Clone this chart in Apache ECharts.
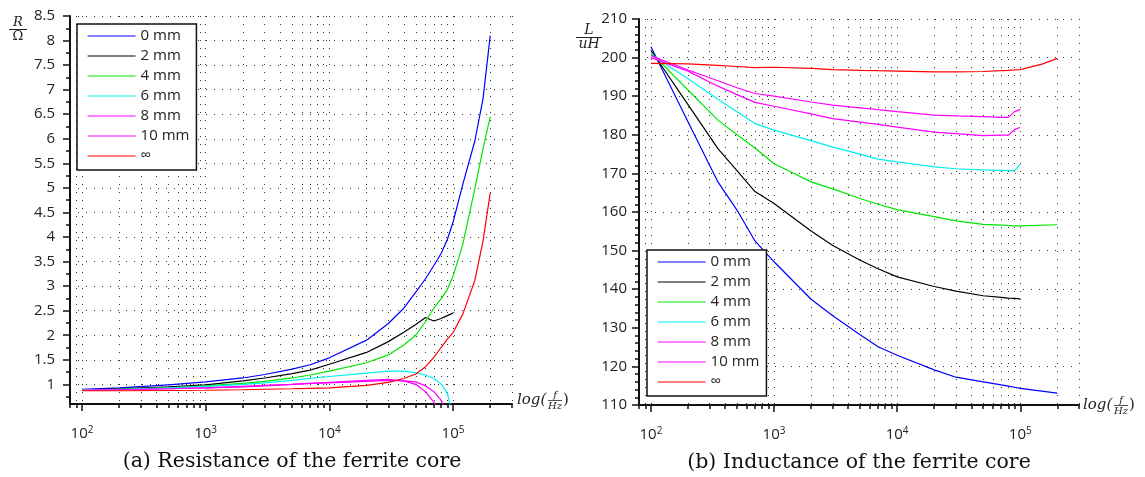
<!DOCTYPE html>
<html><head><meta charset="utf-8">
<script src="https://cdn.jsdelivr.net/npm/echarts@6/dist/echarts.min.js"></script>
<style>html,body{margin:0;padding:0;background:#fff}#c{width:1145px;height:477px}</style>
</head><body><div id="c"></div>
<script>
// ---------- data ----------
const seriesNames = ['0 mm', '2 mm', '4 mm', '6 mm', '8 mm', '10 mm', '\u221e'];
const seriesColors = ['#0000ff', '#000000', '#00e600', '#00f0f0', '#ff00ff', '#ff00ff', '#ff0000'];

// (a) Resistance, frequencies in Hz
const freqR = [100, 200, 500, 1000, 2000, 3000, 5000, 7000, 10000, 20000, 30000, 40000, 50000, 60000, 70000, 80000, 90000, 100000, 120000, 150000, 175000, 200000];
const res0  = [0.90, 0.93, 0.99, 1.05, 1.13, 1.20, 1.31, 1.40, 1.54, 1.90, 2.24, 2.55, 2.88, 3.15, 3.42, 3.66, 3.95, 4.30, 5.07, 5.95, 6.82, 8.10];
const res2  = [0.89, 0.91, 0.95, 0.99, 1.07, 1.13, 1.22, 1.29, 1.41, 1.65, 1.87, 2.06, 2.22, 2.36, 2.29, 2.34, 2.40, 2.45, null, null, null, null];
const res4  = [0.89, 0.90, 0.93, 0.97, 1.02, 1.06, 1.13, 1.19, 1.27, 1.44, 1.60, 1.80, 2.00, 2.28, 2.55, 2.74, 2.93, 3.20, 3.85, 4.98, 5.80, 6.45];
const res6  = [0.89, 0.90, 0.93, 0.96, 1.00, 1.03, 1.08, 1.12, 1.16, 1.23, 1.27, 1.27, 1.24, 1.19, 1.12, 1.01, 0.82, 0.30, null, null, null, null];
const res8  = [0.88, 0.89, 0.91, 0.93, 0.96, 0.98, 1.00, 1.02, 1.03, 1.06, 1.08, 1.07, 1.05, 0.97, 0.85, 0.68, 0.40, null, null, null, null, null];
const res10 = [0.88, 0.89, 0.91, 0.93, 0.95, 0.97, 1.00, 1.02, 1.04, 1.08, 1.10, 1.07, 1.00, 0.85, 0.64, 0.40, null, null, null, null, null, null];
const resInf= [0.87, 0.87, 0.875, 0.88, 0.89, 0.90, 0.91, 0.92, 0.93, 0.98, 1.04, 1.12, 1.21, 1.36, 1.55, 1.75, 1.92, 2.05, 2.43, 3.11, 3.92, 4.90];

// (b) Inductance, frequencies in Hz
const freqL = [100, 200, 350, 500, 700, 1000, 2000, 3000, 5000, 7000, 10000, 20000, 30000, 50000, 70000, 80000, 90000, 100000, 150000, 200000];
const ind0  = [202.8, 183.4, 167.8, 160.5, 152.5, 147.1, 137.4, 133.1, 128.2, 125.1, 122.9, 119.1, 117.2, 116.0, 115.2, 114.9, 114.6, 114.3, null, 113.1];
const ind2  = [201.9, 187.8, 176.4, 170.7, 165.3, 162.2, 155.1, 151.3, 147.5, 145.3, 143.2, 140.7, 139.5, 138.3, 137.9, 137.7, 137.6, 137.5, null, null];
const ind4  = [201.3, 191.6, 183.8, 180.0, 176.6, 172.5, 167.8, 166.0, 163.5, 162.0, 160.6, 158.8, 157.7, 156.8, 156.6, 156.5, 156.4, 156.4, null, 156.7];
const ind6  = [200.8, 194.5, 189.2, 186.0, 182.9, 181.2, 178.5, 176.8, 175.0, 173.7, 173.0, 171.7, 171.2, 170.9, 170.8, 170.7, 170.7, 172.4, null, null];
const ind8  = [200.0, 196.5, 192.6, 190.4, 188.4, 187.4, 185.4, 184.2, 183.3, 182.7, 182.0, 180.7, 180.3, 179.8, 179.9, 179.9, 181.4, 181.9, null, null];
const ind10 = [200.5, 196.8, 194.0, 192.2, 190.7, 190.0, 188.5, 187.7, 187.0, 186.5, 186.0, 185.1, 184.9, 184.7, 184.5, 184.5, 186.0, 186.6, null, null];
const indInf= [198.5, 198.4, 198.0, 197.7, 197.4, 197.5, 197.2, 196.9, 196.7, 196.6, 196.5, 196.3, 196.3, 196.4, 196.6, 196.7, 196.8, 196.9, 198.3, 199.8];

// axes / ticks
const freqMin = 80, freqMax = 300000;
const xMajorExp = [2, 3, 4, 5];
const xGridFreqs = [80, 90, 100, 200, 300, 400, 500, 600, 700, 800, 900, 1000, 2000, 3000, 4000, 5000, 6000, 7000, 8000, 9000,
  10000, 20000, 30000, 40000, 50000, 60000, 70000, 80000, 90000, 100000, 200000, 300000];
const resTicks = [1, 1.5, 2, 2.5, 3, 3.5, 4, 4.5, 5, 5.5, 6, 6.5, 7, 7.5, 8, 8.5];
const resMinorTicks = [0.75, 1.25, 1.75, 2.25, 2.75, 3.25, 3.75, 4.25, 4.75, 5.25, 5.75, 6.25, 6.75, 7.25, 7.75, 8.25];
const indTicks = [110, 120, 130, 140, 150, 160, 170, 180, 190, 200, 210];
const indMinorTicks = [112, 114, 116, 118, 122, 124, 126, 128, 132, 134, 136, 138, 142, 144, 146, 148, 152, 154, 156, 158,
  162, 164, 166, 168, 172, 174, 176, 178, 182, 184, 186, 188, 192, 194, 196, 198, 202, 204, 206, 208];
const captionA = '(a) Resistance of the ferrite core';
const captionB = '(b) Inductance of the ferrite core';

// ---------- option ----------
const SANS = 'Open Sans';
const SERIF = 'DejaVu Serif';
const lg = Math.log10;
const axisBlack = '#111';
const dotted = {show: true, lineStyle: {color: '#333', width: 1, type: [1, 7]}};

function xAxes(gi) {
  return [
    {gridIndex: gi, type: 'value', position: 'bottom', min: lg(freqMin), max: lg(freqMax),
     axisLine: {show: true, onZero: false, lineStyle: {color: axisBlack, width: 2}},
     axisTick: {show: true, customValues: xMajorExp, length: 7, lineStyle: {color: axisBlack, width: 1.5}},
     axisLabel: {show: true, customValues: xMajorExp, margin: 21,
       formatter: v => '{b|10}{s|' + v + '}',
       rich: {b: {fontFamily: SANS, fontSize: 15, color: '#222', lineHeight: 18},
              s: {fontFamily: SANS, fontSize: 10, color: '#222', lineHeight: 10, verticalAlign: 'top'}}},
     splitLine: {show: false}},
    {gridIndex: gi, type: 'value', position: 'bottom', min: lg(freqMin), max: lg(freqMax),
     axisLine: {show: false, onZero: false},
     axisTick: {show: true, customValues: xGridFreqs.map(lg), length: 4, lineStyle: {color: axisBlack, width: 1.5}},
     axisLabel: {show: false},
     splitLine: dotted}
  ];
}
function yAxes(gi, min, max, ticks, minor, margin) {
  return [
    {gridIndex: gi, type: 'value', position: 'left', min: min, max: max,
     axisLine: {show: true, onZero: false, lineStyle: {color: axisBlack, width: 2}},
     axisTick: {show: true, customValues: ticks, length: 7, lineStyle: {color: axisBlack, width: 1.5}},
     axisLabel: {show: true, customValues: ticks, margin: margin, fontFamily: SANS, fontSize: 15, color: '#222'},
     splitLine: dotted},
    {gridIndex: gi, type: 'value', position: 'left', min: min, max: max,
     axisLine: {show: false, onZero: false},
     axisTick: {show: true, customValues: minor, length: 4, lineStyle: {color: axisBlack, width: 1.5}},
     axisLabel: {show: false}, splitLine: {show: false}}
  ];
}
function mk(freqs, vals, i, gi) {
  return {
    name: seriesNames[i], type: 'line', xAxisIndex: gi * 2, yAxisIndex: gi * 2,
    data: freqs.map((f, k) => [lg(f), vals[k]]).filter(p => p[1] != null),
    symbol: 'none', showSymbol: false, smooth: false, clip: true,
    lineStyle: {color: seriesColors[i], width: 1.2}, itemStyle: {color: seriesColors[i]},
    z: 3, silent: true
  };
}
const resVals = [res0, res2, res4, res6, res8, res10, resInf];
const indVals = [ind0, ind2, ind4, ind6, ind8, ind10, indInf];
const series = [];
resVals.forEach((v, i) => series.push(mk(freqR, v, i, 0)));
indVals.forEach((v, i) => series.push(mk(freqL, v, i, 1)));

function legend(left, top) {
  return {data: seriesNames, left: left, top: top, orient: 'vertical',
    itemWidth: 48, itemHeight: 16, itemGap: 4, padding: [4, 7, 6, 10],
    borderColor: '#111', borderWidth: 1.5, backgroundColor: '#fff', selectedMode: false,
    itemStyle: {opacity: 0, borderWidth: 0},
    lineStyle: {width: 1.2},
    textStyle: {fontFamily: SANS, fontSize: 15, color: '#222', lineHeight: 16}, z: 10};
}

function fracText(x, yc, num, den, lineX1, lineX2, size, numItalic, denItalic) {
  return [
    {type: 'text', x: x, y: yc - 7, style: {text: num, font: (numItalic ? 'italic ' : '') + size + 'px "' + SERIF + '"', fill: '#222', align: 'center', verticalAlign: 'middle'}},
    {type: 'line', shape: {x1: lineX1, y1: yc, x2: lineX2, y2: yc}, style: {stroke: '#222', lineWidth: 1}},
    {type: 'text', x: x, y: yc + 7, style: {text: den, font: (denItalic ? 'italic ' : '') + size + 'px "' + SERIF + '"', fill: '#222', align: 'center', verticalAlign: 'middle'}}
  ];
}
function logName(x0, yc) {
  return [
    {type: 'text', x: x0, y: yc, style: {text: 'log(', font: 'italic 15px "' + SERIF + '"', fill: '#222', align: 'left', verticalAlign: 'middle'}},
    {type: 'text', x: x0 + 38, y: yc - 5.5, style: {text: 'f', font: 'italic 10px "' + SERIF + '"', fill: '#222', align: 'center', verticalAlign: 'middle'}},
    {type: 'line', shape: {x1: x0 + 31, y1: yc, x2: x0 + 45, y2: yc}, style: {stroke: '#222', lineWidth: 0.8}},
    {type: 'text', x: x0 + 38, y: yc + 5.5, style: {text: 'Hz', font: 'italic 10px "' + SERIF + '"', fill: '#222', align: 'center', verticalAlign: 'middle'}},
    {type: 'text', x: x0 + 46, y: yc, style: {text: ')', font: '15px "' + SERIF + '"', fill: '#222', align: 'left', verticalAlign: 'middle'}}
  ];
}

const graphic = [].concat(
  fracText(18, 29.5, 'R', '\u03a9', 9, 27, 13, true, false),
  fracText(589, 37.5, 'L', 'uH', 576, 602, 14, true, true),
  logName(517, 400.5),
  logName(1083, 405.5),
  [
    {type: 'text', x: 292, y: 462, style: {text: captionA, font: '20.5px "' + SERIF + '"', fill: '#111', align: 'center', verticalAlign: 'middle'}},
    {type: 'text', x: 859, y: 463, style: {text: captionB, font: '20.5px "' + SERIF + '"', fill: '#111', align: 'center', verticalAlign: 'middle'}}
  ]
);

const option = {
  animation: false,
  backgroundColor: '#fff',
  grid: [{left: 70, top: 16, width: 442, height: 388}, {left: 639, top: 19, width: 440, height: 386}],
  xAxis: [].concat(xAxes(0), xAxes(1)),
  yAxis: [].concat(yAxes(0, 0.6, 8.5, resTicks, resMinorTicks, 15), yAxes(1, 110, 210, indTicks, indMinorTicks, 12)),
  legend: [legend(77, 24), legend(647, 250)],
  series: series,
  graphic: graphic
};
const chart = echarts.init(document.getElementById('c'), null, {renderer: 'canvas'});
chart.setOption(option);
</script></body></html>
